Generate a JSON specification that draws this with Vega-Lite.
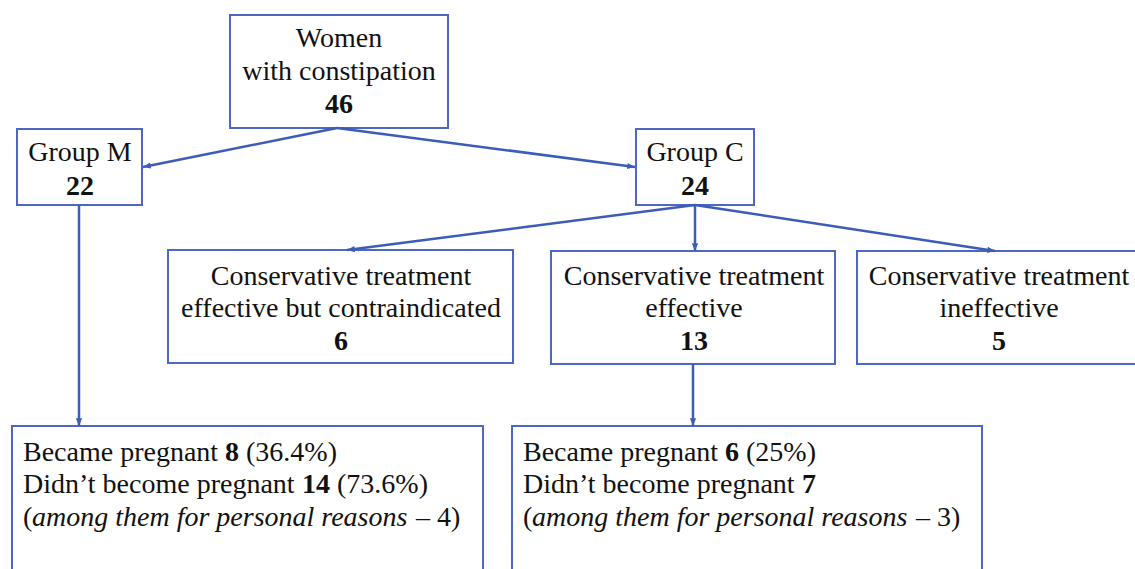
{
  "$schema": "https://vega.github.io/schema/vega-lite/v6.json",
  "width": 1135,
  "height": 569,
  "padding": 0,
  "autosize": {"type": "none"},
  "background": "white",
  "config": {"view": {"stroke": null}, "text": {"font": "'Liberation Serif', 'Times New Roman', 'DejaVu Serif', serif", "fontSize": 28, "baseline": "middle", "color": "#111111"}},
  "datasets": {
    "boxes": [
      {"id": "all", "x1": 230, "x2": 448, "y1": 15, "y2": 128},
      {"id": "M", "x1": 17, "x2": 142, "y1": 129, "y2": 205},
      {"id": "C", "x1": 636, "x2": 754, "y1": 129, "y2": 205},
      {"id": "contra", "x1": 168, "x2": 513, "y1": 250, "y2": 363},
      {"id": "eff", "x1": 551, "x2": 835, "y1": 251, "y2": 364},
      {"id": "ineff", "x1": 857, "x2": 1145, "y1": 251, "y2": 364},
      {"id": "outM", "x1": 12, "x2": 483, "y1": 426, "y2": 590},
      {"id": "outC", "x1": 512, "x2": 982, "y1": 426, "y2": 590}
    ],
    "edges": [
      {"x1": 337, "y1": 128, "x2": 143, "y2": 167},
      {"x1": 337, "y1": 128, "x2": 635, "y2": 167},
      {"x1": 79, "y1": 205, "x2": 79, "y2": 426},
      {"x1": 695, "y1": 205, "x2": 347, "y2": 250},
      {"x1": 695, "y1": 205, "x2": 695, "y2": 251},
      {"x1": 695, "y1": 205, "x2": 995, "y2": 251},
      {"x1": 693, "y1": 364, "x2": 693, "y2": 426}
    ],
    "texts": [
      {"x": 339, "y": 39, "text": "Women", "kind": "label"},
      {"x": 339, "y": 72, "text": "with constipation", "kind": "label"},
      {"x": 339, "y": 105, "text": "46", "kind": "count"},
      {"x": 80, "y": 153, "text": "Group M", "kind": "label"},
      {"x": 80, "y": 187, "text": "22", "kind": "count"},
      {"x": 695, "y": 153, "text": "Group C", "kind": "label"},
      {"x": 695, "y": 187, "text": "24", "kind": "count"},
      {"x": 341, "y": 277, "text": "Conservative treatment", "kind": "label"},
      {"x": 341, "y": 309, "text": "effective but contraindicated", "kind": "label"},
      {"x": 341, "y": 342, "text": "6", "kind": "count"},
      {"x": 694, "y": 277, "text": "Conservative treatment", "kind": "label"},
      {"x": 694, "y": 309, "text": "effective", "kind": "label"},
      {"x": 694, "y": 342, "text": "13", "kind": "count"},
      {"x": 999, "y": 277, "text": "Conservative treatment", "kind": "label"},
      {"x": 999, "y": 309, "text": "ineffective", "kind": "label"},
      {"x": 999, "y": 342, "text": "5", "kind": "count"},
      {"x": 23, "y": 453, "text": "Became pregnant", "kind": "run"},
      {"x": 225, "y": 453, "text": "8", "kind": "num"},
      {"x": 246, "y": 453, "text": "(36.4%)", "kind": "run"},
      {"x": 23, "y": 485, "text": "Didn’t become pregnant", "kind": "run"},
      {"x": 302, "y": 485, "text": "14", "kind": "num"},
      {"x": 337, "y": 485, "text": "(73.6%)", "kind": "run"},
      {"x": 23, "y": 518, "text": "(", "kind": "run"},
      {"x": 32, "y": 518, "text": "among them for personal reasons", "kind": "note"},
      {"x": 416, "y": 518, "text": "– 4)", "kind": "run"},
      {"x": 523, "y": 453, "text": "Became pregnant", "kind": "run"},
      {"x": 725, "y": 453, "text": "6", "kind": "num"},
      {"x": 746, "y": 453, "text": "(25%)", "kind": "run"},
      {"x": 523, "y": 485, "text": "Didn’t become pregnant", "kind": "run"},
      {"x": 802, "y": 485, "text": "7", "kind": "num"},
      {"x": 523, "y": 518, "text": "(", "kind": "run"},
      {"x": 532, "y": 518, "text": "among them for personal reasons", "kind": "note"},
      {"x": 916, "y": 518, "text": "– 3)", "kind": "run"}
    ]
  },
  "layer": [
    {
      "data": {"name": "boxes"},
      "mark": {"type": "rect", "fill": "white", "stroke": "#4d68c2", "strokeWidth": 2},
      "encoding": {
        "x": {"field": "x1", "type": "quantitative", "scale": {"domain": [0, 1135], "nice": false, "zero": false}, "axis": null},
        "x2": {"field": "x2"},
        "y": {"field": "y1", "type": "quantitative", "scale": {"domain": [0, 569], "nice": false, "zero": false, "reverse": true}, "axis": null},
        "y2": {"field": "y2"}
      }
    },
    {
      "data": {"name": "edges"},
      "mark": {"type": "rule", "color": "#3b5cb8", "strokeWidth": 2.5},
      "encoding": {
        "x": {"field": "x1", "type": "quantitative"},
        "x2": {"field": "x2"},
        "y": {"field": "y1", "type": "quantitative"},
        "y2": {"field": "y2"}
      }
    },
    {
      "data": {"name": "edges"},
      "transform": [{"calculate": "atan2(datum.y2 - datum.y1, datum.x2 - datum.x1) * 180 / PI", "as": "ang"}],
      "mark": {"type": "point", "filled": true, "opacity": 1, "color": "#3b5cb8", "shape": "M0,0L-2.2,-0.9L-2.2,0.9Z", "size": 49},
      "encoding": {
        "x": {"field": "x2", "type": "quantitative"},
        "y": {"field": "y2", "type": "quantitative"},
        "angle": {"field": "ang", "type": "quantitative", "scale": null}
      }
    },
    {
      "data": {"name": "texts"},
      "transform": [{"filter": "datum.kind === 'label'"}],
      "mark": {"type": "text", "align": "center"},
      "encoding": {
        "x": {"field": "x", "type": "quantitative"},
        "y": {"field": "y", "type": "quantitative"},
        "text": {"field": "text"}
      }
    },
    {
      "data": {"name": "texts"},
      "transform": [{"filter": "datum.kind === 'count'"}],
      "mark": {"type": "text", "fontWeight": "bold", "align": "center"},
      "encoding": {
        "x": {"field": "x", "type": "quantitative"},
        "y": {"field": "y", "type": "quantitative"},
        "text": {"field": "text"}
      }
    },
    {
      "data": {"name": "texts"},
      "transform": [{"filter": "datum.kind === 'run'"}],
      "mark": {"type": "text", "align": "left"},
      "encoding": {
        "x": {"field": "x", "type": "quantitative"},
        "y": {"field": "y", "type": "quantitative"},
        "text": {"field": "text"}
      }
    },
    {
      "data": {"name": "texts"},
      "transform": [{"filter": "datum.kind === 'num'"}],
      "mark": {"type": "text", "fontWeight": "bold", "align": "left"},
      "encoding": {
        "x": {"field": "x", "type": "quantitative"},
        "y": {"field": "y", "type": "quantitative"},
        "text": {"field": "text"}
      }
    },
    {
      "data": {"name": "texts"},
      "transform": [{"filter": "datum.kind === 'note'"}],
      "mark": {"type": "text", "fontStyle": "italic", "align": "left"},
      "encoding": {
        "x": {"field": "x", "type": "quantitative"},
        "y": {"field": "y", "type": "quantitative"},
        "text": {"field": "text"}
      }
    }
  ]
}
